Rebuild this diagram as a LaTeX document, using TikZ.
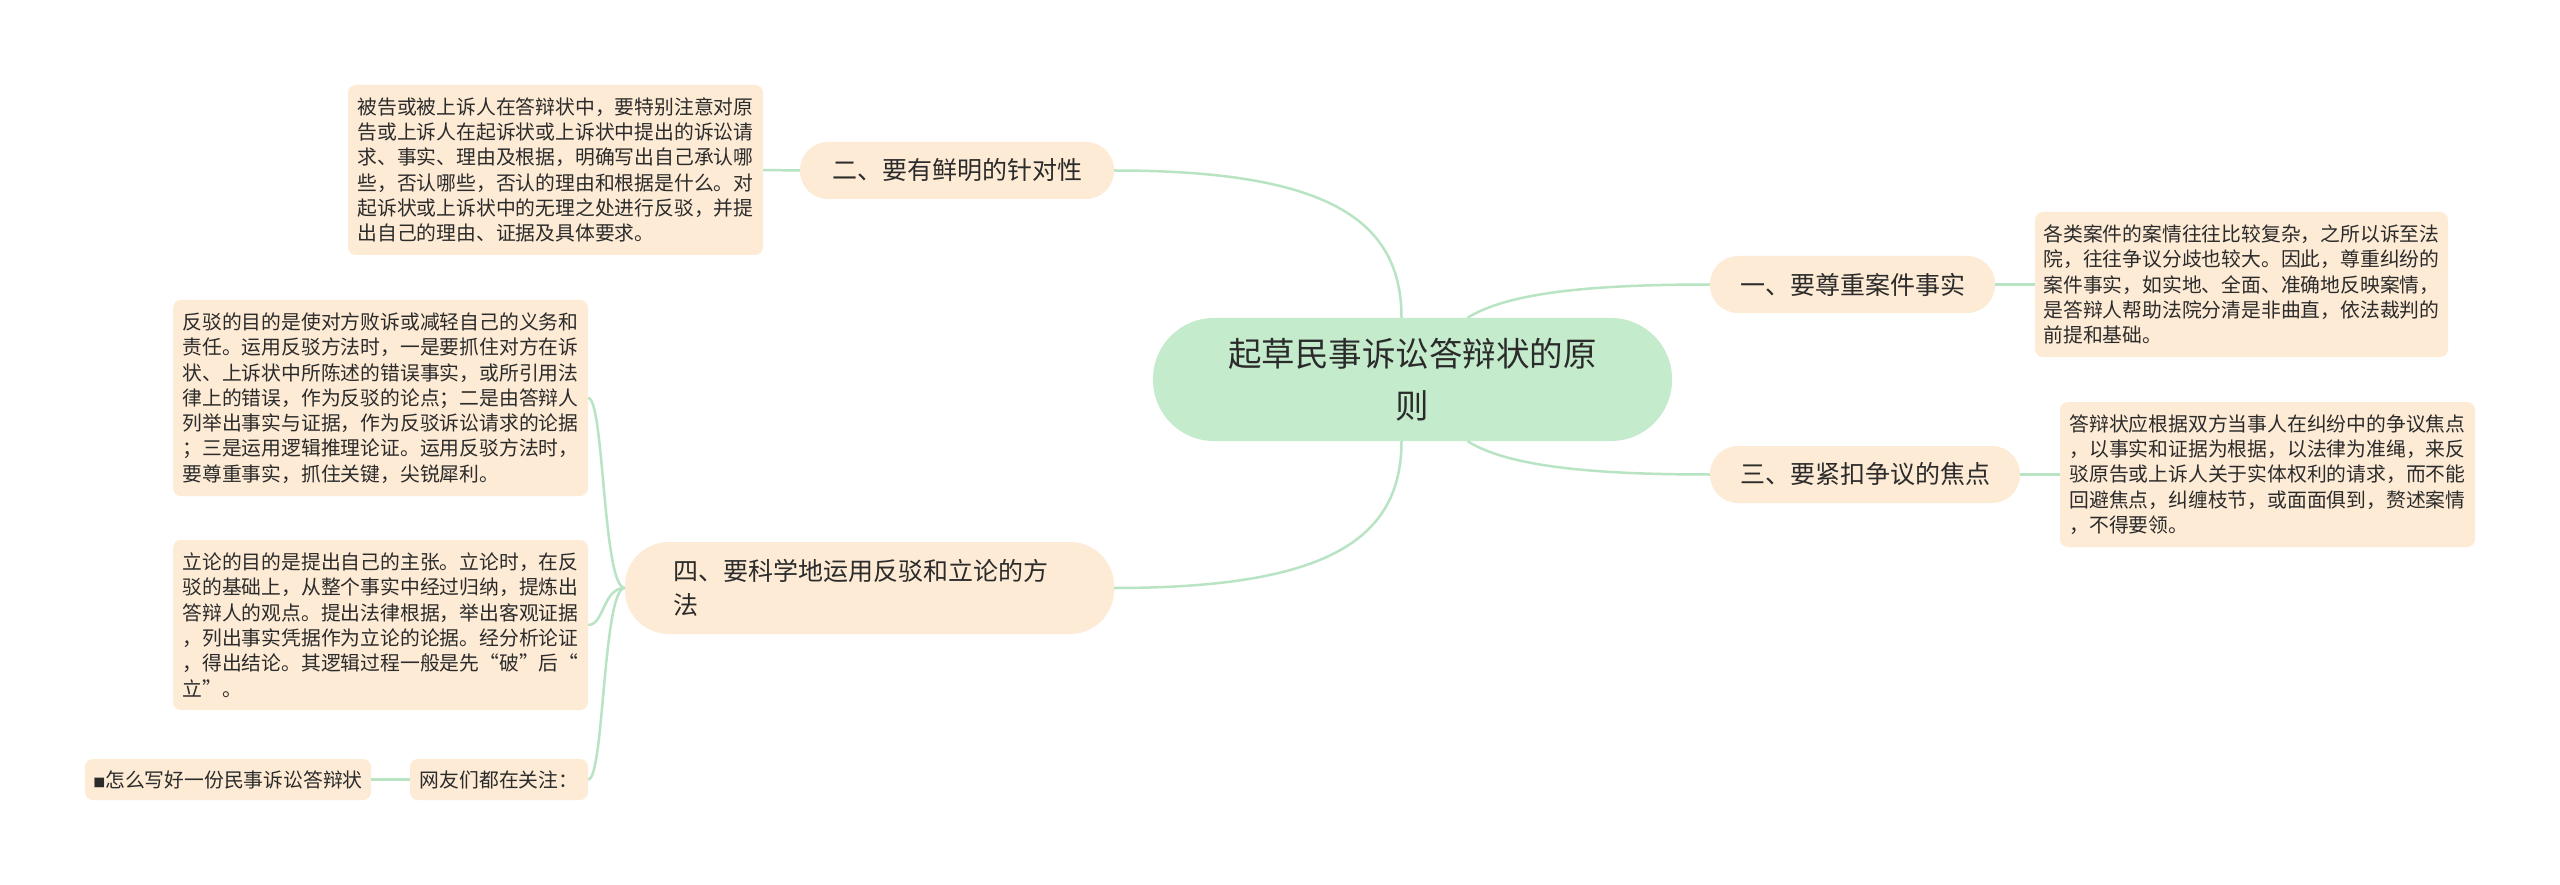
\documentclass[tikz,border=0pt]{standalone}
\usepackage{fontspec}
\newfontfamily\cjk{Noto Sans CJK SC}
\definecolor{peach}{HTML}{FDEBD5}
\definecolor{cgreen}{HTML}{C4EBCB}
\definecolor{lgreen}{HTML}{B9E4C3}
\definecolor{txt}{HTML}{2B2B2B}
\begin{document}
\begin{tikzpicture}[x=1pt,y=-1pt,
  tbox/.style={fill=peach, rounded corners=8pt, inner sep=0pt, minimum width=415pt,
    text width=396pt, align=left, text=txt, font=\cjk\fontsize{19.8pt}{25.3pt}\selectfont},
  pill/.style={fill=peach, rounded corners=28pt, inner sep=0pt, minimum height=57pt,
    text=txt, font=\cjk\fontsize{25pt}{34pt}\selectfont},
  sbox/.style={fill=peach, rounded corners=8pt, inner sep=0pt, minimum height=41pt,
    text=txt, font=\cjk\fontsize{19.8pt}{25.3pt}\selectfont},
  link/.style={draw=lgreen, line width=2.5pt}]
\useasboundingbox (0,0) rectangle (2560,885);
\fill[white] (0,0) rectangle (2560,885);

% central node
\node[fill=cgreen, rounded corners=61pt, inner sep=0pt, minimum width=519pt, minimum height=123pt,
  align=center, text=txt, font=\cjk\fontsize{33.5pt}{52pt}\selectfont] (c) at (1412.5,379.5)
  {起草民事诉讼答辩状的原\\则};

% branch nodes
\node[pill, minimum width=314pt] (n2) at (957,170.5) {二、要有鲜明的针对性};
\node[pill, minimum width=285pt] (n1) at (1852.5,284.5) {一、要尊重案件事实};
\node[pill, minimum width=310pt] (n3) at (1865,474.5) {三、要紧扣争议的焦点};
\node[pill, rounded corners=44pt, minimum width=489pt, minimum height=92pt,
  text width=393pt, align=left] (n4) at (869.5,588)
  {四、要科学地运用反驳和立论的方\\法};

% detail boxes
\node[tbox, minimum height=170pt] (t2) at (555.5,170) {被告或被上诉人在答辩状中，要特别注意对原\\告或上诉人在起诉状或上诉状中提出的诉讼请\\求、事实、理由及根据，明确写出自己承认哪\\些，否认哪些，否认的理由和根据是什么。对\\起诉状或上诉状中的无理之处进行反驳，并提\\出自己的理由、证据及具体要求。};
\node[tbox, minimum width=413pt, minimum height=145pt] (t1) at (2241.5,284.5) {各类案件的案情往往比较复杂，之所以诉至法\\院，往往争议分歧也较大。因此，尊重纠纷的\\案件事实，如实地、全面、准确地反映案情，\\是答辩人帮助法院分清是非曲直，依法裁判的\\前提和基础。};
\node[tbox, minimum height=145pt] (t3) at (2267.5,474.5) {答辩状应根据双方当事人在纠纷中的争议焦点\\，以事实和证据为根据，以法律为准绳，来反\\驳原告或上诉人关于实体权利的请求，而不能\\回避焦点，纠缠枝节，或面面俱到，赘述案情\\，不得要领。};
\node[tbox, minimum height=196pt] (fb) at (380.5,398) {反驳的目的是使对方败诉或减轻自己的义务和\\责任。运用反驳方法时，一是要抓住对方在诉\\状、上诉状中所陈述的错误事实，或所引用法\\律上的错误，作为反驳的论点；二是由答辩人\\列举出事实与证据，作为反驳诉讼请求的论据\\；三是运用逻辑推理论证。运用反驳方法时，\\要尊重事实，抓住关键，尖锐犀利。};
\node[tbox, minimum height=170pt] (ll) at (380.5,625) {立论的目的是提出自己的主张。立论时，在反\\驳的基础上，从整个事实中经过归纳，提炼出\\答辩人的观点。提出法律根据，举出客观证据\\，列出事实凭据作为立论的论据。经分析论证\\，得出结论。其逻辑过程一般是先“破”后“\\立”。};
\node[sbox, minimum width=178pt] (wy) at (499,779.5) {网友们都在关注：};
\node[sbox, minimum width=286pt] (zm) at (228,779.5) {{\fontsize{12pt}{12pt}\selectfont ■}怎么写好一份民事诉讼答辩状};

% connectors
\draw[link] ([xshift=-11pt]c.north) .. controls +(0,-100) and +(210,0) .. (n2.east);
\draw[link] ([xshift=-11pt]c.south) .. controls +(0,100) and +(210,0) .. (n4.east);
\draw[link] ([xshift=55pt]c.north) .. controls +(40,-25) and +(-120,0) .. (n1.west);
\draw[link] ([xshift=55pt]c.south) .. controls +(40,25) and +(-120,0) .. (n3.west);
\draw[link] (n2.west) -- (t2.east);
\draw[link] (n1.east) -- (t1.west);
\draw[link] (n3.east) -- (t3.west);
\draw[link] (n4.west) .. controls +(-22,0) and +(16,0) .. (fb.east);
\draw[link] (n4.west) .. controls +(-22,0) and +(16,0) .. (ll.east);
\draw[link] (n4.west) .. controls +(-22,0) and +(16,0) .. (wy.east);
\draw[link] (wy.west) -- (zm.east);
\end{tikzpicture}
\end{document}
